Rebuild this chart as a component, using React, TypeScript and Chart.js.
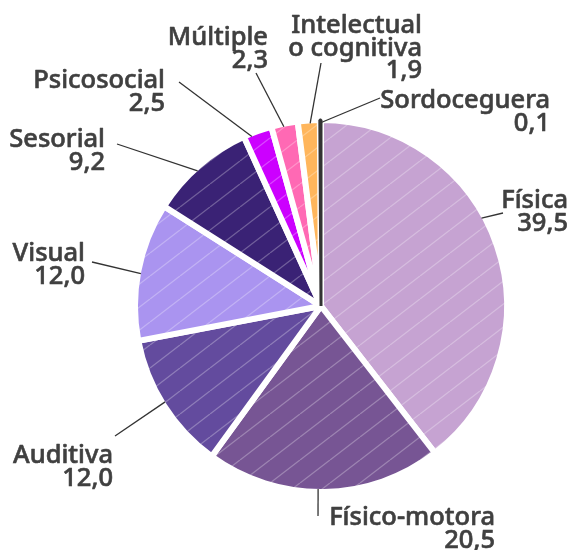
import React, { useEffect, useRef } from "react";
import { Chart, registerables } from "chart.js";

Chart.register(...registerables);

// ---- data ----
const categories = [
  "Física",
  "Físico-motora",
  "Auditiva",
  "Visual",
  "Sesorial",
  "Psicosocial",
  "Múltiple",
  "Intelectual o cognitiva",
  "Sordoceguera",
];
const values = [39.5, 20.5, 12.0, 12.0, 9.2, 2.5, 2.3, 1.9, 0.1];
const labelNames = [
  ["Física"],
  ["Físico-motora"],
  ["Auditiva"],
  ["Visual"],
  ["Sesorial"],
  ["Psicosocial"],
  ["Múltiple"],
  ["Intelectual", "o cognitiva"],
  ["Sordoceguera"],
];

// ---- styles ----
const sliceColors = [
  "#C6A3D2",
  "#775594",
  "#634B9E",
  "#AA94F0",
  "#3A2275",
  "#CC00FF",
  "#FF69B4",
  "#FFB65C",
  "#333333",
];
const sliceHatched = [true, true, true, true, true, true, true, true, false];

// label layout relative to pie centre: leader start angle (deg, clockwise from top),
// leader end offset, text right edge and first baseline offset
const labelLayout = [
  { angle: 61.3, end: [182, -93], text: [247, -98] },
  { angle: 180.9, end: [-3, 210], text: [174, 219] },
  { angle: 238.4, end: [-206, 130], text: [-208, 157] },
  { angle: 280.2, end: [-229, -44], text: [-236, -45] },
  { angle: 317.6, end: [-204, -162], text: [-216, -159] },
  { angle: 337.8, end: [-142, -224], text: [-156, -218] },
  { angle: 348.3, end: [-65, -233], text: [-53, -261] },
  { angle: 356.6, end: [0, -243], text: [101, -273] },
  { angle: 359.7, end: [59, -208], text: [229, -198] },
];

const FONT = "500 25.5px 'Noto Sans', sans-serif";
const LINE_H = 22.5;
const TEXT_COLOR = "#404040";

function makeHatch(color: string): CanvasPattern | string {
  const w = 30;
  const h = 23;
  const c = document.createElement("canvas");
  c.width = w;
  c.height = h;
  const ctx = c.getContext("2d");
  if (!ctx) return color;
  ctx.fillStyle = color;
  ctx.fillRect(0, 0, w, h);
  ctx.strokeStyle = "rgba(255,255,255,0.28)";
  ctx.lineWidth = 1.3;
  for (const off of [-w, 0, w]) {
    ctx.beginPath();
    ctx.moveTo(off, h);
    ctx.lineTo(off + w, 0);
    ctx.stroke();
  }
  const p = ctx.createPattern(c, "repeat");
  return p || color;
}

const labelPlugin = {
  id: "outerLabels",
  afterDatasetsDraw(chart: any) {
    const meta = chart.getDatasetMeta(0);
    const arc: any = meta.data[0];
    if (!arc) return;
    const cx = arc.x;
    const cy = arc.y;
    const R = arc.outerRadius - 3;
    const ctx: CanvasRenderingContext2D = chart.ctx;
    ctx.save();
    ctx.font = FONT;
    ctx.fillStyle = TEXT_COLOR;
    ctx.textAlign = "right";
    ctx.textBaseline = "alphabetic";
    labelLayout.forEach((lay, i) => {
      const a = (lay.angle * Math.PI) / 180;
      const sx = cx + Math.sin(a) * R;
      const sy = cy - Math.cos(a) * R;
      ctx.strokeStyle = "#333333";
      ctx.lineWidth = 1.3;
      ctx.beginPath();
      ctx.moveTo(sx, sy);
      ctx.lineTo(cx + lay.end[0], cy + lay.end[1]);
      ctx.stroke();
      const lines = [...labelNames[i], values[i].toFixed(1).replace(".", ",")];
      ctx.strokeStyle = TEXT_COLOR;
      ctx.lineWidth = 0.6;
      ctx.lineJoin = "round";
      lines.forEach((t, k) => {
        const x = cx + lay.text[0];
        const y = cy + lay.text[1] + k * LINE_H;
        ctx.fillText(t, x, y);
        ctx.strokeText(t, x, y);
      });
    });
    ctx.restore();
  },
};

export default function App() {
  const ref = useRef<HTMLCanvasElement | null>(null);
  useEffect(() => {
    if (!ref.current) return;
    const bg = sliceColors.map((c, i) => (sliceHatched[i] ? makeHatch(c) : c));
    const chart = new Chart(ref.current, {
      type: "pie",
      data: {
        labels: categories,
        datasets: [
          {
            data: values,
            backgroundColor: bg as any,
            hoverBackgroundColor: bg as any,
            borderColor: sliceColors.map((c, i) => (i === values.length - 1 ? c : "#ffffff")),
            hoverBorderColor: sliceColors.map((c, i) => (i === values.length - 1 ? c : "#ffffff")),
            borderWidth: values.map((_, i) => (i === values.length - 1 ? 3 : 6)),
            hoverBorderWidth: values.map((_, i) => (i === values.length - 1 ? 3 : 6)),
            offset: 0,
            hoverOffset: 0,
            radius: 186,
          } as any,
        ],
      },
      options: {
        animation: false,
        responsive: true,
        maintainAspectRatio: false,
        layout: { padding: { left: 71, right: 0, top: 62, bottom: 0 } },
        events: [],
        plugins: {
          legend: { display: false },
          tooltip: { enabled: false },
          title: { display: false },
        },
      },
      plugins: [labelPlugin],
    });
    return () => chart.destroy();
  }, []);
  return (
    <div
      style={{
        position: "fixed",
        left: 0,
        top: 0,
        width: 571,
        height: 550,
        background: "#ffffff",
      }}
    >
      <canvas ref={ref} />
    </div>
  );
}
